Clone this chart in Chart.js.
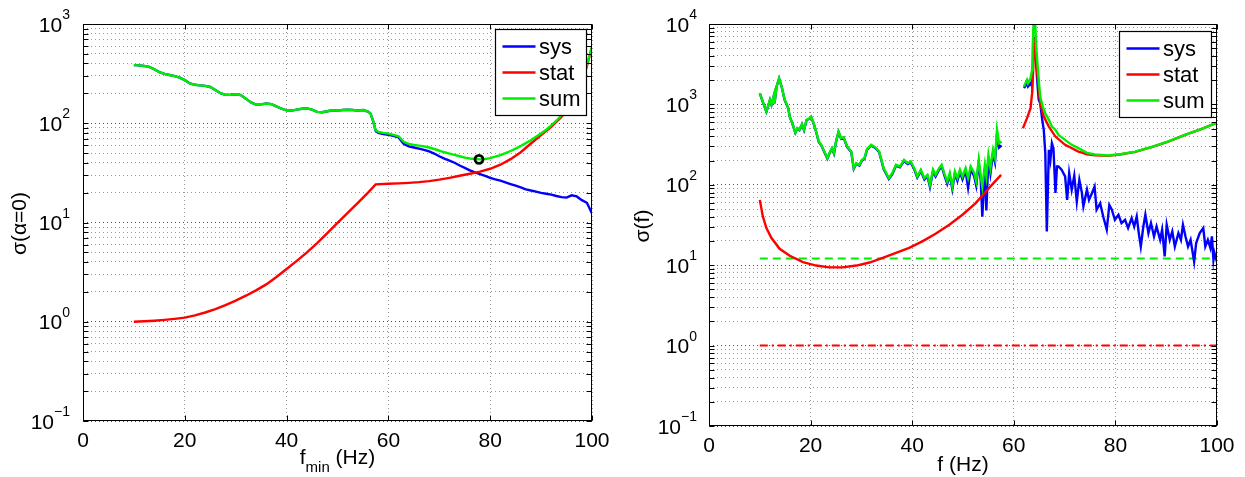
<!DOCTYPE html>
<html>
<head>
<meta charset="utf-8">
<script src="https://cdn.jsdelivr.net/npm/chart.js@4.4.1/dist/chart.umd.min.js"></script>
<style>
  html, body { margin: 0; padding: 0; background: #fff; }
  #wrap { position: relative; width: 1245px; height: 477px; overflow: hidden; background: #fff; }
  #wrap canvas { position: absolute; top: 0; }
</style>
</head>
<body>
<div id="wrap">
  <canvas id="cLeft" width="622" height="477" style="left:0px"></canvas>
  <canvas id="cRight" width="623" height="477" style="left:622px"></canvas>
</div>
<script>
// ---------- axis ticks ----------
const xTickValues = [0, 20, 40, 60, 80, 100];
const xTickLabels = ['0', '20', '40', '60', '80', '100'];
const leftDecadeExps = [-1, 0, 1, 2, 3];
const rightDecadeExps = [-1, 0, 1, 2, 3, 4];

// ---------- left panel: sigma(alpha=0) versus f_min ----------
const fminHz = [10, 11, 12, 13, 14, 15, 16, 17, 18, 19, 20, 21, 22, 23, 24, 25, 26, 27, 28, 29,
  30, 31, 32, 33, 34, 35, 36, 37, 38, 39, 40, 41, 42, 43, 44, 45, 46, 47, 48, 49,
  50, 51, 52, 53, 54, 55, 56, 56.5, 57, 57.5, 58, 59, 60, 61, 62, 63, 64, 65, 66, 67,
  68, 69, 70, 71, 72, 73, 74, 75, 76, 77, 78, 79, 80, 81, 82, 83, 84, 85, 86, 87,
  88, 89, 90, 91, 92, 93, 94, 95, 96, 97, 98, 99, 100];
const sysVsFmin = [385, 383, 378, 370, 350, 328, 314, 306, 299, 288, 272, 252, 244, 241, 238, 232, 216, 201, 193, 194,
  196, 192, 177, 162, 154, 155, 158, 156, 148, 140, 135, 134, 137, 140, 141, 137, 130, 129, 132, 135,
  134, 136, 137, 136, 134, 136, 131, 125, 105, 84, 80, 78, 76.5, 74.5, 72, 62, 58.5, 57, 55.5, 54,
  52, 49.5, 46.5, 44, 42, 40, 37.5, 35.5, 33.5, 32, 30.8, 29.5, 28.2, 27.2, 26.4, 25.4, 24.4, 23.5, 22.6, 21.6,
  21, 20.5, 19.9, 19.5, 19.1, 18.5, 18, 17.8, 18.8, 18.3, 16.8, 15.8, 12.3];
const sumVsFmin = [385, 383, 378, 370, 350, 328, 314, 306, 299, 288, 272, 252, 244, 241, 238, 232, 216, 201, 193, 194,
  196, 192, 177, 162, 154, 155, 158, 156, 148, 140, 135, 134, 137, 140, 141, 137, 130, 129, 132, 135,
  134, 136, 137, 136, 134, 136, 131, 125, 106, 85, 82, 80, 78.5, 76.5, 74, 65, 62, 60.5, 59.5, 58.5,
  57, 55, 53, 51, 49.5, 48, 46.5, 45, 44.2, 43.6, 43.3, 43.6, 44.5, 46, 47.8, 50, 52.5, 55.5, 59, 63,
  67.5, 73, 79, 86, 95, 106, 120, 138, 163, 205, 275, 390, 590];
const fminStatHz = [10, 12, 14, 16, 18, 20, 22, 24, 26, 28, 30, 32, 34, 36, 38, 40, 42, 44, 46, 48,
  50, 52, 54, 56, 57.5, 60, 62, 64, 66, 68, 70, 72, 74, 76, 78, 80, 82, 84, 86, 88,
  90, 92, 94, 96, 97, 98, 99, 100];
const statVsFmin = [1.0, 1.01, 1.025, 1.045, 1.07, 1.1, 1.16, 1.24, 1.34, 1.47, 1.63, 1.83, 2.07, 2.38, 2.82, 3.4, 4.1, 5.0, 6.2, 7.8,
  9.9, 12.5, 15.8, 20, 24.2, 24.6, 24.8, 25.1, 25.5, 26.1, 27.0, 28.2, 29.6, 31.0, 32.6, 34.8, 38.2, 43.5, 51, 62.5,
  76, 92, 116, 155, 195, 262, 375, 590];
const optFminHz = [77.8];
const optSigma = [43.3];

// ---------- right panel: sigma(f) ----------
const lowBandHz = [10.0, 10.6, 11.3, 12.0, 12.3, 12.8, 12.9, 13.3, 13.8, 14.3, 14.9, 15.6, 15.9, 16.3, 17.0, 17.4, 17.8, 18.3, 18.7, 19.2,
  19.8, 20.1, 20.6, 21.1, 21.6, 22.1, 22.7, 23.3, 23.7, 24.2, 24.6, 25.0, 25.5, 26.0, 26.5, 27.2, 28.0, 28.5, 29.0, 29.6,
  30.1, 30.6, 31.1, 31.9, 32.5, 32.9, 33.5, 34.4, 35.4, 36.1, 36.8, 37.6, 38.4, 39.1, 39.7, 40.4, 41.0, 41.7, 42.4, 43.0,
  43.5, 44.1, 44.6, 45.3, 45.8, 46.3, 46.9, 47.4, 47.9, 48.4, 48.9, 49.4, 49.9, 50.5, 51.0, 51.5, 52.2, 52.6, 53.1, 53.5,
  53.8, 54.3, 54.6, 55.0, 55.4, 55.9, 56.3, 56.7, 57.1, 57.6];
const sumLowBand = [1380, 1080, 815, 1140, 990, 1310, 1035, 1670, 2110, 1670, 1140, 900, 705, 610, 446, 506, 482, 567, 482, 642,
  674, 705, 584, 459, 345, 314, 259, 214, 248, 286, 248, 345, 459, 380, 391, 299, 259, 161, 186, 177,
  204, 214, 277, 314, 299, 286, 259, 160, 121, 140, 177, 169, 204, 186, 195, 161, 127, 154, 121, 133,
  100, 154, 133, 161, 177, 140, 110, 140, 95, 146, 121, 154, 127, 161, 121, 169, 140, 110, 204, 127,
  95, 177, 127, 236, 161, 272, 214, 482, 329, 345];
const sysLowBand = [1370, 1070, 810, 1130, 985, 1300, 1030, 1660, 2100, 1660, 1130, 895, 700, 605, 443, 502, 478, 562, 478, 636,
  668, 699, 578, 454, 341, 310, 256, 211, 245, 282, 244, 341, 454, 375, 386, 295, 255, 158, 183, 174,
  200, 210, 272, 309, 294, 281, 254, 156, 118, 136, 173, 165, 199, 181, 190, 156, 123, 149, 116, 128,
  94, 148, 127, 154, 170, 133, 103, 132, 88, 137, 112, 144, 117, 150, 92, 156, 128, 98, 188, 112,
  40, 160, 48, 215, 138, 245, 190, 430, 290, 310];
const gapHz = [60];
const gapValue = [null];
const sumHighHz = [62.0, 62.6, 62.8, 63.3, 63.6, 63.7, 63.9, 64.2, 64.4, 64.8, 65.2, 65.7, 66.2, 66.9, 67.5, 68.2, 68.8, 70.1, 71.4, 72.7,
  74.4, 76.0, 78.6, 81.2, 83.9, 87.1, 90.4, 93.7, 96.9, 99.4, 100];
const sumHighBand = [1670, 2020, 1830, 2110, 2680, 4750, 11000, 11000, 5230, 2430, 1250, 940, 777, 642, 530, 482, 417, 362, 314, 286,
  250, 238, 231, 242, 259, 295, 346, 418, 493, 573, 592];
const sysHighHz = [62.0, 62.6, 62.8, 63.3, 63.6, 63.9, 64.2, 64.6, 64.9, 65.2, 65.6, 65.9, 66.2, 66.5, 66.9, 67.2, 67.5, 67.8, 68.2, 68.5,
  68.8, 69.4, 70.1, 70.5, 70.9, 71.4, 71.9, 72.4, 72.9, 73.4, 73.7, 74.4, 74.8, 75.4, 75.9, 76.3, 77.0, 77.6, 78.3, 78.8,
  79.3, 79.9, 80.6, 81.2, 81.9, 82.5, 83.2, 83.7, 84.2, 84.6, 85.0, 85.5, 85.9, 86.5, 87.0, 87.6, 88.1, 88.8, 89.2, 89.7,
  90.1, 90.7, 91.2, 91.7, 92.4, 92.9, 93.3, 93.8, 94.3, 94.8, 95.5, 95.9, 96.6, 97.3, 97.7, 98.2, 98.7, 99.0, 99.3, 99.5, 100];
const sysHighBand = [1600, 1830, 1670, 1830, 1670, 6950, 5000, 2020, 1140, 1030, 642, 482, 248, 26.3, 272, 204, 329, 286, 79, 169,
  169, 154, 127, 65, 140, 87, 130, 62, 115, 80, 54, 87, 65, 79, 95, 49, 59, 40.4, 27.6, 56,
  49, 36.7, 42.4, 33.4, 36.7, 29, 38.5, 30.3, 40.4, 25.1, 17.1, 30.3, 42.4, 25.1, 33.4, 22.8, 30.3, 20.7, 27.6, 12.9,
  31.8, 20.7, 26.3, 17.1, 25.1, 20.7, 31.8, 22.8, 17.1, 20.7, 11.1, 18.9, 25.1, 29, 17.1, 20.7, 16.4, 22.8, 11.7, 14.2, 11];
const statLowHz = [10.0, 10.6, 11.3, 12.3, 13.9, 15.9, 18.5, 21.1, 23.7, 26.3, 29.0, 31.6, 34.2, 36.8, 39.4, 42.0, 44.6, 47.3, 49.9, 52.5, 55.1, 57.5];
const statLowBand = [65, 40.4, 29, 21.8, 16.0, 13.1, 10.9, 9.9, 9.4, 9.4, 9.9, 10.8, 12.3, 14.2, 16.4, 19.8, 24.6, 31.8, 42.4, 59.2, 91, 133];
const statHighHz = [61.8, 62.6, 63.3, 63.6, 63.9, 64.1, 64.2, 64.4, 64.8, 65.2, 65.9, 66.9, 68.2, 70.1, 70.8, 72.7, 73.4, 74.4, 76.0, 78.6,
  81.2, 83.9, 87.1, 90.4, 93.7, 96.9, 99.4, 100];
const statHighBand = [506, 674, 898, 1380, 3570, 5470, 6000, 3570, 1830, 1030, 705, 530, 398, 314, 299, 259, 252, 240, 233, 229,
  240, 257, 294, 345, 417, 492, 572, 590];
const levelHz = [10, 100];
const sumLevel = [12.1, 12.1];
const statLevel = [1, 1];

// ---------- helpers ----------
const FONT = "'Liberation Sans', Arial, Helvetica, sans-serif";
Chart.defaults.font.family = FONT;

const BLUE = '#0000ff', RED = '#ff0000', GREEN = '#00ee00';

function points(xs, ys) { return xs.map((x, i) => ({ x: x, y: ys[i] })); }

function lineSet(label, data, color, order, extra) {
  return Object.assign({
    label: label, data: data, borderColor: color, backgroundColor: color,
    borderWidth: 2.4, pointRadius: 0, pointHoverRadius: 0, tension: 0,
    fill: false, spanGaps: false, order: order, inLegend: true
  }, extra || {});
}

function isDecade(v) {
  const l = Math.log10(v);
  return Math.abs(l - Math.round(l)) < 1e-6;
}

// decades plus the 2..9 minor values between them
function logTickValues(exps) {
  const t = [];
  exps.forEach((e, i) => {
    const d = Math.pow(10, e);
    t.push(d);
    if (i < exps.length - 1) {
      for (let m = 2; m <= 9; m++) t.push(+(m * d).toPrecision(4));
    }
  });
  return t;
}

// box, inward ticks, tick labels with exponents, axis titles, legend
const axesDecor = {
  id: 'axesDecor',
  afterDatasetsDraw(chart, args, o) {
    const ctx = chart.ctx, a = chart.chartArea;
    const xs = chart.scales.x, ys = chart.scales.y;
    const L = Math.round(a.left) + 0.5, R = Math.round(a.right) - 0.5;
    const T = Math.round(a.top) + 0.5, B = Math.round(a.bottom) - 0.5;
    ctx.save();
    ctx.setLineDash([]);
    ctx.strokeStyle = '#000';
    ctx.lineWidth = 1;

    ctx.beginPath();
    ys.ticks.forEach(t => {
      const p = Math.round(ys.getPixelForValue(t.value)) + 0.5;
      ctx.moveTo(L, p); ctx.lineTo(L + o.tickLen, p);
      ctx.moveTo(R, p); ctx.lineTo(R - o.tickLen, p);
    });
    xs.ticks.forEach(t => {
      const p = Math.round(xs.getPixelForValue(t.value)) + 0.5;
      ctx.moveTo(p, B); ctx.lineTo(p, B - o.tickLen);
      ctx.moveTo(p, T); ctx.lineTo(p, T + o.tickLen);
    });
    ctx.stroke();
    ctx.strokeRect(L, T, R - L, B - T);

    // x tick labels
    ctx.fillStyle = '#000';
    ctx.font = o.fontSize + 'px ' + FONT;
    ctx.textAlign = 'center';
    ctx.textBaseline = 'alphabetic';
    xTickValues.forEach((v, i) => {
      ctx.fillText(xTickLabels[i], xs.getPixelForValue(v), a.bottom + o.xLabelDrop);
    });

    // y tick labels: "10" with a raised exponent
    ctx.textAlign = 'left';
    o.decadeExps.forEach(e => {
      const p = ys.getPixelForValue(Math.pow(10, e));
      const sup = String(e).replace('-', '\u2212');
      ctx.font = o.supSize + 'px ' + FONT;
      const ws = ctx.measureText(sup).width;
      ctx.font = o.fontSize + 'px ' + FONT;
      const wb = ctx.measureText('10').width;
      const right = a.left - o.yLabelGap;
      ctx.fillText('10', right - ws - wb, p + 7.5);
      ctx.font = o.supSize + 'px ' + FONT;
      ctx.fillText(sup, right - ws, p - 5);
    });

    // x axis title, with optional subscript
    const xt = o.xTitle;
    ctx.font = o.fontSize + 'px ' + FONT;
    const w1 = ctx.measureText(xt.main).width;
    const w3 = ctx.measureText(xt.tail).width;
    ctx.font = o.subSize + 'px ' + FONT;
    const w2 = xt.sub ? ctx.measureText(xt.sub).width : 0;
    let x0 = (a.left + a.right) / 2 - (w1 + w2 + w3) / 2;
    const base = a.bottom + o.xTitleDrop;
    ctx.font = o.fontSize + 'px ' + FONT;
    ctx.fillText(xt.main, x0, base);
    if (xt.sub) {
      ctx.font = o.subSize + 'px ' + FONT;
      ctx.fillText(xt.sub, x0 + w1, base + 8);
    }
    ctx.font = o.fontSize + 'px ' + FONT;
    ctx.fillText(xt.tail, x0 + w1 + w2, base);

    // y axis title, rotated
    ctx.save();
    ctx.translate(a.left - o.yTitleOffset, (a.top + a.bottom) / 2 + 1);
    ctx.rotate(-Math.PI / 2);
    ctx.textAlign = 'center';
    ctx.font = o.fontSize + 'px ' + FONT;
    ctx.fillText(o.yTitle, 0, 0);
    ctx.restore();

    // legend
    const lg = o.legend;
    const items = chart.data.datasets.filter(d => d.inLegend);
    const bx = Math.round(a.right - lg.right - lg.w) + 0.5;
    const by = Math.round(a.top + lg.top) + 0.5;
    ctx.fillStyle = '#fff';
    ctx.fillRect(bx, by, lg.w, lg.h);
    ctx.strokeStyle = '#000';
    ctx.lineWidth = 1.2;
    ctx.strokeRect(bx, by, lg.w, lg.h);
    ctx.font = lg.fontSize + 'px ' + FONT;
    ctx.textAlign = 'left';
    items.forEach((d, i) => {
      const ry = by + 17 + i * 26;
      ctx.strokeStyle = d.borderColor;
      ctx.lineWidth = 2.4;
      ctx.beginPath();
      ctx.moveTo(bx + 7, ry); ctx.lineTo(bx + 40, ry);
      ctx.stroke();
      ctx.fillStyle = '#000';
      ctx.fillText(d.label, bx + 43.5, ry + 7.5);
    });
    ctx.restore();
  }
};

function makeOptions(yMin, yMax, exps, padding, decor) {
  const yTicks = logTickValues(exps);
  return {
    responsive: false,
    animation: false,
    devicePixelRatio: 1,
    events: [],
    layout: { padding: padding },
    plugins: { legend: { display: false }, tooltip: { enabled: false }, axesDecor: decor },
    scales: {
      x: {
        type: 'linear', min: 0, max: 100,
        afterBuildTicks: s => { s.ticks = xTickValues.map(v => ({ value: v })); },
        ticks: { display: false },
        grid: { drawTicks: false, color: '#9a9a9a', lineWidth: 1 },
        border: { display: false, dash: [1, 3] }
      },
      y: {
        type: 'logarithmic', min: yMin, max: yMax,
        afterBuildTicks: s => { s.ticks = yTicks.map(v => ({ value: v })); },
        ticks: { display: false },
        grid: {
          drawTicks: false, lineWidth: 1,
          color: c => (c.tick && isDecade(c.tick.value)) ? '#505050' : '#999999'
        },
        border: { display: false, dash: [1, 3] }
      }
    }
  };
}

const commonDecor = { fontSize: 21, supSize: 14, subSize: 15, tickLen: 5 };

// ---------- left chart ----------
new Chart(document.getElementById('cLeft'), {
  type: 'line',
  data: {
    datasets: [
      lineSet('sys', points(fminHz, sysVsFmin), BLUE, 3),
      lineSet('stat', points(fminStatHz, statVsFmin), RED, 2),
      lineSet('sum', points(fminHz, sumVsFmin), GREEN, 1),
      lineSet('', points(optFminHz, optSigma), '#000', 0, {
        inLegend: false, showLine: false, pointRadius: 4, pointBorderWidth: 2.8,
        pointBackgroundColor: 'rgba(0,0,0,0)', pointBorderColor: '#000'
      })
    ]
  },
  options: makeOptions(0.1, 1000, leftDecadeExps, { left: 83, top: 24, right: 30, bottom: 56 },
    Object.assign({}, commonDecor, {
      decadeExps: leftDecadeExps, yLabelGap: 13, xLabelDrop: 26, xTitleDrop: 43, yTitleOffset: 57.5,
      xTitle: { main: 'f', sub: 'min', tail: ' (Hz)' }, yTitle: 'σ(α=0)',
      legend: { w: 91, h: 86, right: 6, top: 5, fontSize: 22 }
    })),
  plugins: [axesDecor]
});

// ---------- right chart ----------
new Chart(document.getElementById('cRight'), {
  type: 'line',
  data: {
    datasets: [
      lineSet('sys', points([...lowBandHz, ...gapHz, ...sysHighHz], [...sysLowBand, ...gapValue, ...sysHighBand]), BLUE, 3),
      lineSet('stat', points([...statLowHz, ...gapHz, ...statHighHz], [...statLowBand, ...gapValue, ...statHighBand]), RED, 2),
      lineSet('sum', points([...lowBandHz, ...gapHz, ...sumHighHz], [...sumLowBand, ...gapValue, ...sumHighBand]), GREEN, 1),
      lineSet('', points(levelHz, sumLevel), GREEN, 4, { inLegend: false, borderWidth: 2, borderDash: [8, 5] }),
      lineSet('', points(levelHz, statLevel), RED, 4, { inLegend: false, borderWidth: 2, borderDash: [8, 4, 2, 4] })
    ]
  },
  options: makeOptions(0.1, 10000, rightDecadeExps, { left: 87, top: 24, right: 28, bottom: 51 },
    Object.assign({}, commonDecor, {
      decadeExps: rightDecadeExps, yLabelGap: 12, xLabelDrop: 26, xTitleDrop: 45, yTitleOffset: 60,
      xTitle: { main: 'f', sub: '', tail: ' (Hz)' }, yTitle: 'σ(f)',
      legend: { w: 92, h: 86, right: 6, top: 7, fontSize: 22 }
    })),
  plugins: [axesDecor]
});
</script>
</body>
</html>
